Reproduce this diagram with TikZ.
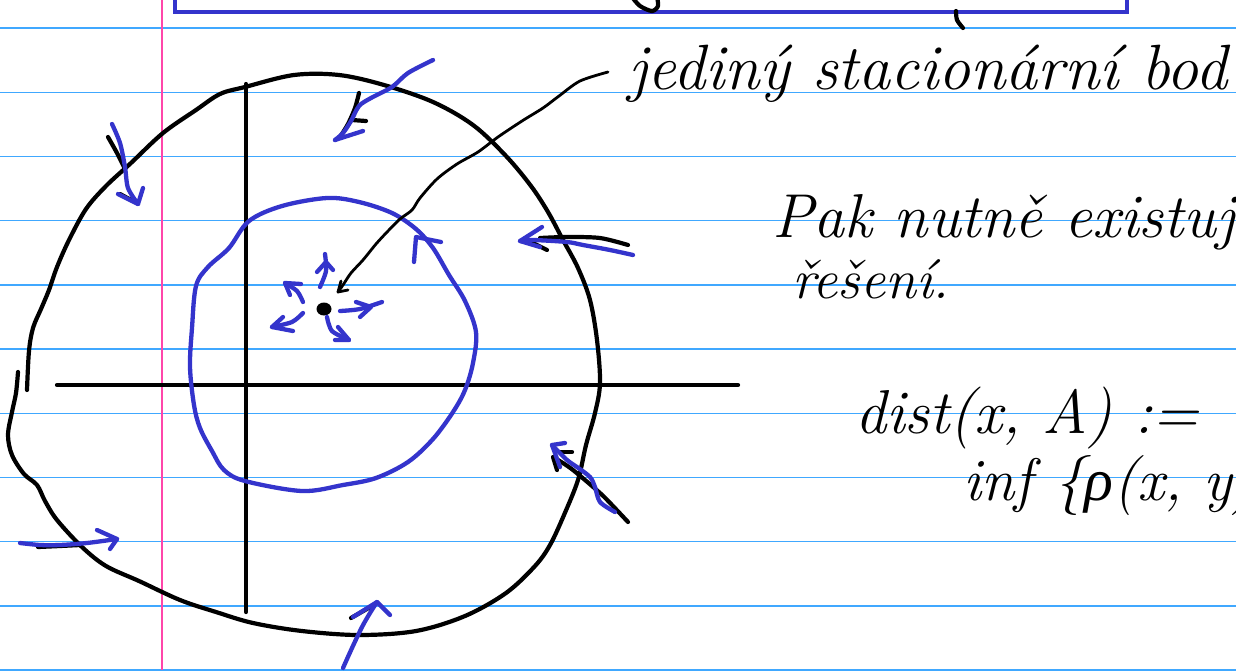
\documentclass[tikz,border=0pt]{standalone}
\usepackage{fontspec}
\setmainfont{Latin Modern Roman}
\newfontfamily\grk{Liberation Serif}
\usetikzlibrary{shapes.geometric}
\definecolor{penblue}{RGB}{52,52,204}
\definecolor{rulecol}{RGB}{64,168,255}
\definecolor{margincol}{RGB}{255,70,170}
\tikzset{
  pen/.style={draw=penblue, line width=4.3pt, line cap=round, line join=round},
  ink/.style={draw=black, line width=4.2pt, line cap=round, line join=round},
  ruleline/.style={draw=rulecol, line width=1.4pt},
  marginline/.style={draw=margincol, line width=2pt},
  hand/.style={inner sep=0pt, anchor=base west},
}
\begin{document}
\begin{tikzpicture}[x=1pt,y=-1pt]
\useasboundingbox (0,0) rectangle (1236,670);
\clip (0,0) rectangle (1236,670);
\fill[white] (0,0) rectangle (1236,670);
% ruled paper
\foreach \k in {0,...,10} \draw[ruleline] (0,{28+64.2*\k}) -- (1236,{28+64.2*\k});
\draw[marginline] (162,0) -- (162,670);
% box at top
\draw[draw=penblue, line width=4.5pt] (175,-6) -- (175,12) -- (1127,12) -- (1127,-6);
\draw[ink] plot[smooth] coordinates {(632,-3) (640,6) (652,11) (658,6) (657,-3)};
\draw[ink] plot[smooth] coordinates {(956,11) (957,20) (963,28)};
% axes
\coordinate (xl) at (57,385);
\coordinate (xr) at (738,385);
\coordinate (yt) at (246,84);
\coordinate (yb) at (246,612);
\draw[ink] (xl) -- (xr);
\draw[ink] (yt) -- (yb);
% outer closed curve
\draw[ink] plot[smooth, tension=0.55] coordinates {(27,390) (29,351) (33,328) (41,309) (49,290) (57,267) (69,240) (86,209) (106,186) (131,163) (163,133) (196,110) (220,94) (245,87) (294,75) (339,75) (384,85) (433,102) (473,125) (506,156) (531,186) (548,212) (563,240) (578,268) (590,300) (597,340) (600,383) (595,413) (586,445) (578,480) (564,515) (550,545) (535,566) (506,593) (465,616) (416,631) (359,635) (302,631) (253,623) (216,612) (180,600) (139,581) (106,566) (82,547) (57,520) (45,501) (37,485) (24,474) (12,455) (8,435) (12,412) (16,393) (18,372)};
% inner blue closed curve
\draw[pen] plot[smooth cycle, tension=0.55] coordinates {(249,221) (282,206) (327,198) (359,202) (392,213) (416,229) (433,248) (449,275) (465,301) (476,332) (473,363) (465,390) (453,412) (433,439) (408,462) (376,478) (343,485) (302,491) (245,481) (224,470) (212,451) (200,428) (194,405) (190,367) (192,328) (196,286) (208,267) (229,248)};
\draw[pen] (414,262) -- (416,237) -- (441,242);
% stationary point
\node[ellipse, fill=black, inner sep=0pt, minimum width=15pt, minimum height=13pt] (dot) at (324,309) {};
% small blue arrows leaving the point
\draw[pen] plot[smooth] coordinates {(320,287) (326,271) (325,254)};
\draw[pen] (317,272) -- (326,262) -- (333,270);
\draw[pen] plot[smooth] coordinates {(303,302) (297,291) (285,283)};
\draw[pen] (290,295) -- (285,283) -- (301,284);
\draw[pen] plot[smooth] coordinates {(303,313) (292,322) (272,327)};
\draw[pen] (283,317) -- (272,327) -- (293,331);
\draw[pen] plot[smooth] coordinates {(340,311) (360,309) (382,302)};
\draw[pen] (356,302) -- (371,307) -- (360,317);
\draw[pen] plot[smooth] coordinates {(327,317) (332,331) (349,340)};
\draw[pen] (338,327) -- (349,340) -- (335,340);
% texts
\node[hand, font=\itshape\fontsize{64}{66}\selectfont] (t1) at (628,89) {jediný stacionární bod};
\node[hand, font=\itshape\fontsize{62}{64}\selectfont] (t2) at (772,237) {Pak nutně existují};
\node[hand, font=\itshape\fontsize{56}{58}\selectfont] (t3) at (792,298) {řešení.};
\node[hand, font=\itshape\fontsize{62}{64}\selectfont] (t4) at (855,433) {dist(x, A) :=};
\node[hand, font=\itshape\fontsize{60}{62}\selectfont] (t5) at (963,500) {inf\hspace{22pt}\{{\grk\itshape ρ}(x, y)\}};
% black arrow from the label to the point
\coordinate (a0) at (608,72);
\coordinate (tip) at (338,292);
\draw[ink, line width=2.8pt] plot[smooth] coordinates {(a0) (580,81) (559,96) (543,108) (522,121) (498,137) (478,152) (457,164) (437,179) (420,198) (412,210) (400,219) (388,231) (376,244) (363,260) (351,273) (343,285) (tip)};
\draw[ink, line width=2.8pt] (341,281) -- (tip) -- (348,290);
% outer arrows pointing inward
% A top-left
\draw[ink] plot[smooth] coordinates {(108,137) (117,153) (125,169)};
\draw[ink] (120,194) -- (133,201);
\draw[pen] plot[smooth] coordinates {(112,124) (120,143) (125,167) (128,188) (138,204)};
\draw[pen] (118,194) -- (138,204) -- (143,188);
% B top
\draw[ink] plot[smooth] coordinates {(359,93) (355,108) (348,124) (340,137)};
\draw[ink] (352,120) -- (366,121);
\draw[pen] plot[smooth] coordinates {(433,60) (408,73) (392,87) (371,98) (359,106) (351,121) (343,133) (335,140)};
\draw[pen] (335,140) -- (363,131);
% C right upper
\draw[ink] plot[smooth] coordinates {(628,245) (600,238) (567,237) (540,238)};
\draw[ink] (533,243) -- (547,250);
\draw[pen] plot[smooth] coordinates {(633,255) (610,250) (583,245) (567,242) (533,240) (520,241)};
\draw[pen] (542,227) -- (520,241) -- (540,247);
% D right lower
\draw[ink] plot[smooth] coordinates {(628,522) (612,505) (600,493) (573,470) (558,460)};
\draw[ink] (560,452) -- (572,452);
\draw[ink] (553,457) -- (557,470);
\draw[pen] plot[smooth] coordinates {(615,512) (600,502) (595,487) (590,477) (577,467) (567,460) (552,445)};
\draw[pen] (565,443) -- (552,445) -- (560,467);
% E bottom
\draw[ink] (351,618) -- (372,606);
\draw[pen] plot[smooth] coordinates {(343,668) (352,648) (362,627) (370,613) (377,602)};
\draw[pen] (353,617) -- (377,602) -- (390,615);
% F left lower
\draw[ink] plot[smooth] coordinates {(38,547) (60,546) (80,545)};
\draw[pen] plot[smooth] coordinates {(20,543) (40,545) (60,545) (87,543) (117,539)};
\draw[pen] (97,530) -- (117,539) -- (110,549);
\end{tikzpicture}
\end{document}
